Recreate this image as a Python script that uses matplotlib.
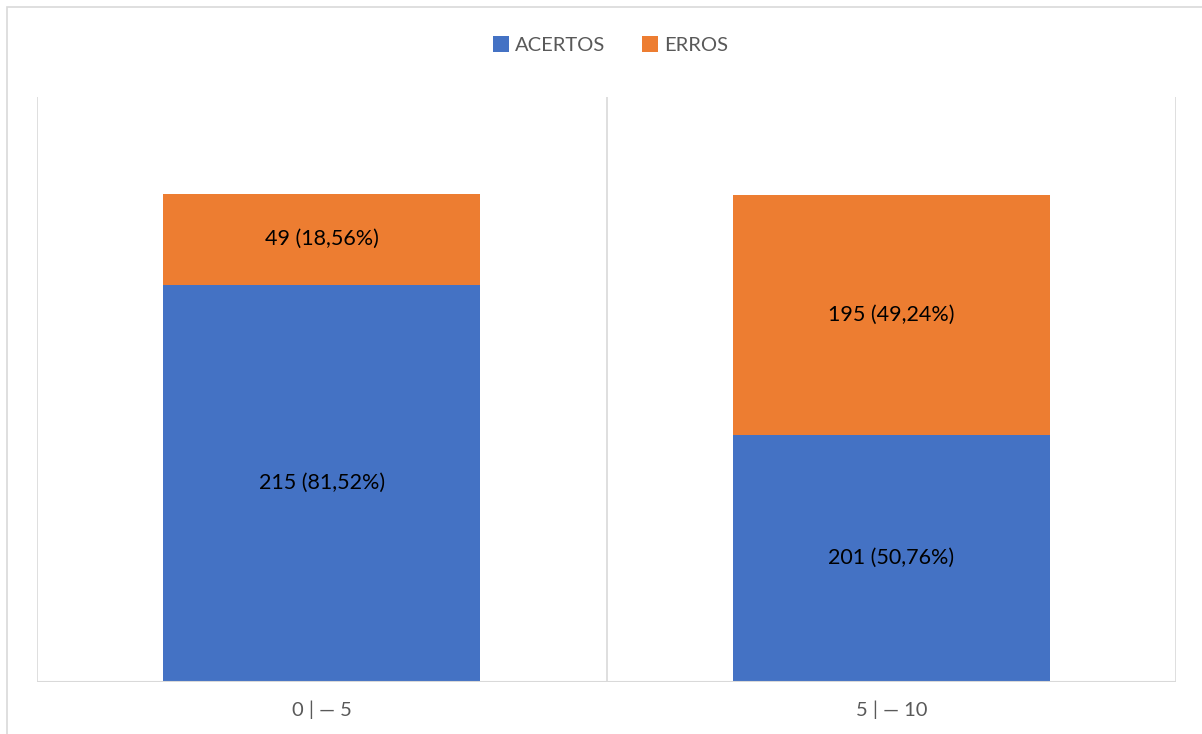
import matplotlib.pyplot as plt
from matplotlib.patches import Rectangle

plt.rcParams['font.family'] = ['Lato', 'DejaVu Sans']

categories = ['0 | — 5', '5 | — 10']
acertos_n = [215, 201]
erros_n = [49, 195]
acertos_pct = [81.52, 50.76]
erros_pct = [18.56, 49.24]

blue = '#4472C4'
orange = '#ED7D31'
grid = '#D9D9D9'
text_gray = '#595959'

fig = plt.figure(figsize=(12.02, 7.34), dpi=100)
# light frame around the chart area
fig.patches.append(Rectangle((7 / 1202, -0.1), 1.2, 1 - 7 / 734 + 0.1,
                             transform=fig.transFigure, fill=False,
                             edgecolor=grid, linewidth=1.2))

ax = fig.add_axes([37 / 1202, 52 / 734, 1139 / 1202, 585 / 734])
x = range(len(categories))
width = 0.557
b1 = ax.bar(x, acertos_pct, width, color=blue, label='ACERTOS')
b2 = ax.bar(x, erros_pct, width, bottom=acertos_pct, color=orange, label='ERROS')

for i in x:
    ax.text(i, acertos_pct[i] / 2, f'{acertos_n[i]} ({acertos_pct[i]:.2f}%)'.replace('.', ','),
            ha='center', va='center', fontsize=15.5, color='#000000')
    ax.text(i, acertos_pct[i] + erros_pct[i] / 2,
            f'{erros_n[i]} ({erros_pct[i]:.2f}%)'.replace('.', ','),
            ha='center', va='center', fontsize=15.5, color='#000000')

ax.set_xlim(-0.5, 1.5)
ax.set_ylim(0, 120)
for xv in (-0.5, 0.5, 1.5):
    ax.axvline(xv, color=grid, linewidth=1.2, zorder=0)
for s in ax.spines.values():
    s.set_visible(False)
ax.axhline(0, color=grid, linewidth=1.5, zorder=3)
ax.set_yticks([])
ax.set_xticks(list(x))
ax.set_xticklabels(categories, fontsize=14.5, color=text_gray)
ax.tick_params(axis='x', length=0, pad=13)

fig.legend(handles=[b1, b2], loc='center', bbox_to_anchor=(0.508, 1 - 45 / 734),
           ncol=2, frameon=False, fontsize=14.5, labelcolor=text_gray,
           handlelength=0.8, handleheight=0.8, handletextpad=0.3, columnspacing=1.8)

fig.savefig('out.png', dpi=100)
